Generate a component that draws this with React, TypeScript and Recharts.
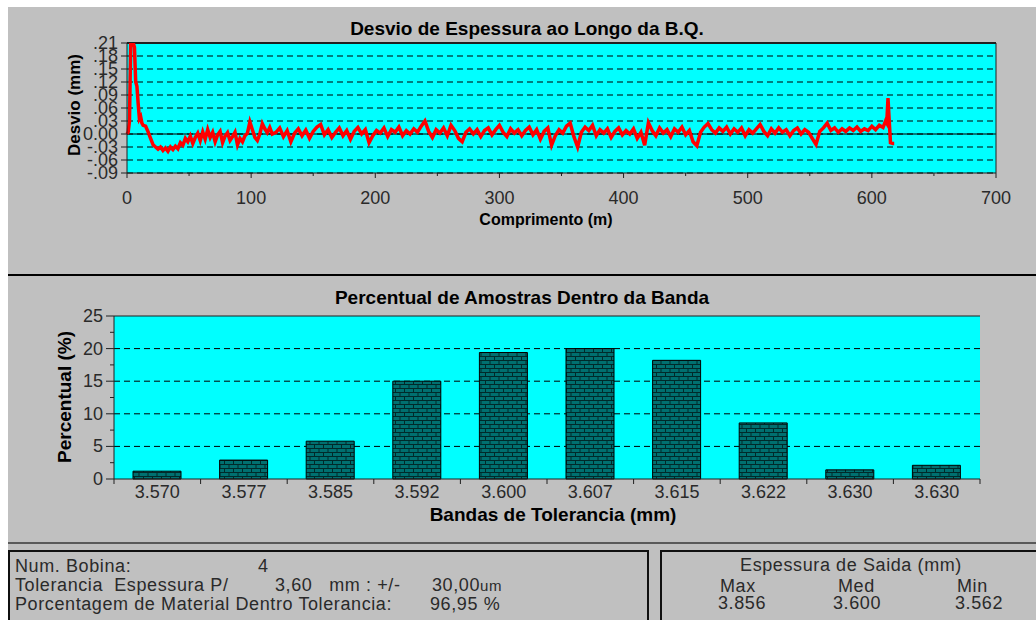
import React from "react"
import { LineChart, Line, BarChart, Bar, XAxis, YAxis, CartesianGrid, ReferenceLine } from "recharts"

// posicao ao longo da bobina (m) e desvio de espessura (mm)
const comprimento = [
  0, 1, 2, 3, 4, 5, 6, 7, 8, 9, 10, 11, 12, 13, 15, 17, 19, 21, 23, 25, 27, 29, 31, 33, 35, 37, 39,
  41, 43, 45, 47, 49, 51, 53, 55, 57, 59, 61, 63, 65, 67, 69, 71, 73, 75, 77, 79, 81, 83, 85, 87, 89,
  91, 93, 95, 97, 99, 101, 103, 105, 107, 109, 111, 113, 115, 117, 120, 123, 126, 129, 132, 135, 138,
  141, 144, 147, 150, 153, 156, 159, 162, 165, 168, 171, 174, 177, 180, 183, 186, 189, 192, 195, 198,
  201, 204, 207, 210, 213, 216, 219, 222, 225, 228, 231, 234, 237, 240, 243, 246, 249, 252, 255, 258,
  261, 264, 267, 270, 273, 276, 279, 282, 285, 288, 291, 294, 297, 300, 303, 306, 309, 312, 315, 318,
  321, 324, 327, 330, 333, 336, 339, 342, 345, 348, 351, 354, 357, 360, 363, 366, 369, 372, 375, 378,
  381, 384, 387, 390, 393, 396, 399, 402, 405, 408, 411, 414, 417, 420, 423, 426, 429, 432, 435, 438,
  441, 444, 447, 450, 453, 456, 459, 462, 465, 468, 471, 474, 477, 480, 483, 486, 489, 492, 495, 498,
  501, 504, 507, 510, 513, 516, 519, 522, 525, 528, 531, 534, 537, 540, 543, 546, 549, 552, 555, 558,
  561, 564, 567, 570, 573, 576, 579, 582, 585, 588, 591, 594, 597, 600, 603, 606, 609, 611, 612, 613,
  614, 615, 617, 618,
]
const desvio = [
  0.0, 0.005, 0.03, 0.21, 0.21, 0.21, 0.2, 0.12, 0.11, 0.07, 0.035, 0.04, 0.025, 0.02, 0.018, 0.005,
  -0.01, -0.025, -0.03, -0.035, -0.03, -0.038, -0.032, -0.04, -0.03, -0.036, -0.028, -0.034, -0.02,
  -0.026, -0.01, -0.018, -0.005, -0.022, -0.008, 0.002, -0.015, 0.005, -0.012, 0.01, -0.008, 0.004,
  -0.018, -0.002, 0.006, -0.02, -0.005, 0.003, -0.015, -0.006, 0.004, -0.025, -0.01, -0.018, -0.004,
  0.002, 0.028, 0.01, -0.008, -0.015, 0.0, 0.024, 0.012, 0.003, 0.015, 0.0, 0.004, 0.014, -0.006,
  0.008, -0.018, 0.002, 0.012, -0.004, 0.009, -0.01, 0.006, 0.016, 0.022, -0.002, 0.01, -0.008, 0.004,
  0.014, -0.004, 0.008, -0.012, 0.006, 0.015, 0.0, 0.01, -0.02, -0.004, 0.008, 0.002, 0.014, -0.006,
  0.01, 0.004, 0.016, -0.004, 0.008, 0.0, 0.012, 0.004, 0.018, 0.03, 0.006, -0.008, 0.01, 0.002,
  0.014, -0.004, 0.02, 0.008, -0.01, -0.018, 0.004, 0.012, 0.0, 0.01, -0.006, 0.008, 0.014, -0.002,
  0.01, 0.02, 0.004, -0.006, 0.012, 0.002, 0.01, -0.004, 0.008, 0.016, -0.002, 0.01, -0.012, 0.006,
  0.014, -0.026, -0.004, 0.01, 0.002, 0.018, 0.025, -0.006, -0.03, 0.004, 0.016, 0.008, 0.02, -0.004,
  0.01, 0.002, 0.012, -0.008, 0.006, 0.014, -0.002, 0.008, 0.0, 0.012, -0.01, 0.004, -0.026, 0.026,
  0.008, -0.004, 0.014, 0.002, 0.01, -0.006, 0.012, 0.004, 0.016, -0.002, 0.008, -0.018, -0.027,
  0.004, 0.016, 0.024, 0.01, 0.002, 0.014, 0.006, 0.016, 0.0, 0.012, 0.004, 0.014, -0.004, 0.01,
  0.002, 0.012, 0.022, 0.006, -0.004, 0.012, 0.002, 0.014, 0.004, 0.01, -0.004, 0.008, 0.014, 0.0,
  0.01, 0.004, -0.01, -0.024, 0.006, 0.014, 0.025, 0.008, 0.014, 0.004, 0.012, 0.006, 0.014, 0.008,
  0.016, 0.006, 0.012, 0.008, 0.018, 0.01, 0.02, 0.015, 0.03, 0.025, 0.083, 0.03, -0.02, -0.022,
  -0.022,
]
const ticksComprimento = [0, 50, 100, 150, 200, 250, 300, 350, 400, 450, 500, 550, 600, 650, 700]
const ticksDesvio = [-0.09, -0.06, -0.03, 0, 0.03, 0.06, 0.09, 0.12, 0.15, 0.18, 0.21]

const bandas = ["3.570", "3.577", "3.585", "3.592", "3.600", "3.607", "3.615", "3.622", "3.630", "3.630"]
const percentual = [1.2, 2.9, 5.8, 15.0, 19.4, 20.0, 18.2, 8.6, 1.4, 2.1]
const ticksPercentual = [0, 2.5, 5, 7.5, 10, 12.5, 15, 17.5, 20, 22.5, 25]
const gradePercentual = [5, 10, 15, 20]

const dadosDesvio = comprimento.map((m, i) => ({ m, d: desvio[i] }))
const dadosBanda = bandas.map((b, i) => ({ banda: b, pct: percentual[i] }))

const FONTE = "'Liberation Sans', Arial, sans-serif"
const EIXO = "#202020"
const TEXTO = "#2a2a2a"

const fmtDesvio = (v: number) => {
  if (Math.abs(v) < 1e-9) return "0.00"
  const s = Math.abs(v).toFixed(2).slice(1)
  return v < 0 ? "-" + s : s
}

const TickComprimento = (props: any) => {
  const { x, y, payload } = props
  const major = payload.value % 100 === 0
  return (
    <g>
      <line x1={x} y1={y} x2={x} y2={y + (major ? 5 : 3)} stroke={EIXO} />
      {major && (
        <text x={x} y={y + 31} textAnchor="middle" fontSize={18} fill={TEXTO} fontFamily={FONTE}>
          {payload.value}
        </text>
      )}
    </g>
  )
}

const TickDesvio = (props: any) => {
  const { x, y, payload } = props
  return (
    <g>
      <line x1={x - 6} y1={y} x2={x} y2={y} stroke={EIXO} />
      <text x={x - 9} y={y + 6} textAnchor="end" fontSize={18} fill={TEXTO} fontFamily={FONTE}>
        {fmtDesvio(payload.value)}
      </text>
    </g>
  )
}

const TickBanda = (props: any) => {
  const { x, y, payload, index } = props
  const half = payload && payload.offset > 0 ? payload.offset : 43.3
  return (
    <g>
      <line x1={x - half} y1={y} x2={x - half} y2={y + 5} stroke={EIXO} />
      {index === bandas.length - 1 && <line x1={x + half} y1={y} x2={x + half} y2={y + 5} stroke={EIXO} />}
      <text x={x} y={y + 19} textAnchor="middle" fontSize={18} fill={TEXTO} fontFamily={FONTE}>
        {payload.value}
      </text>
    </g>
  )
}

const TickPercentual = (props: any) => {
  const { x, y, payload } = props
  const major = payload.value % 5 === 0
  return (
    <g>
      <line x1={x - (major ? 8 : 4)} y1={y} x2={x} y2={y} stroke={EIXO} />
      {major && (
        <text x={x - 11} y={y + 6} textAnchor="end" fontSize={18} fill={TEXTO} fontFamily={FONTE}>
          {payload.value}
        </text>
      )}
    </g>
  )
}

const abs = (left: number, top: number, extra: React.CSSProperties = {}): React.CSSProperties => ({
  position: "absolute",
  left,
  top,
  whiteSpace: "nowrap",
  ...extra,
})

const titulo: React.CSSProperties = { fontWeight: "bold", fontSize: 19, color: "#000", transform: "translate(-50%, -50%)" }
const rotulo: React.CSSProperties = { fontWeight: "bold", fontSize: 19, color: "#000", transform: "translate(-50%, -50%) rotate(-90deg)" }
const info: React.CSSProperties = { fontSize: 18, color: TEXTO, letterSpacing: 0.6, lineHeight: "19px", transform: "translateY(-50%)" }

export default function App() {
  return (
    <div
      style={{
        position: "fixed",
        left: 8,
        top: 7,
        width: 1028,
        height: 613,
        background: "#c0c0c0",
        overflow: "hidden",
        fontFamily: FONTE,
      }}
    >
      {/* grafico de desvio */}
      <div style={abs(0, 0)}>
        <LineChart width={1028} height={268} data={dadosDesvio} margin={{ top: 36, right: 40, left: 59, bottom: 62 }}>
          <CartesianGrid vertical={false} stroke="#000" strokeDasharray="6 4" fill="#00ffff" fillOpacity={1} />
          <XAxis
            dataKey="m"
            type="number"
            domain={[0, 700]}
            ticks={ticksComprimento}
            interval={0}
            tick={<TickComprimento />}
            tickLine={false}
            tickSize={0}
            tickMargin={0}
            height={40}
            axisLine={{ stroke: EIXO }}
          />
          <YAxis
            type="number"
            domain={[-0.09, 0.21]}
            ticks={ticksDesvio}
            interval={0}
            allowDataOverflow
            tick={<TickDesvio />}
            tickLine={false}
            tickSize={0}
            tickMargin={0}
            width={60}
            axisLine={{ stroke: EIXO }}
          />
          <ReferenceLine y={0} stroke="#000" strokeWidth={1} />
          <ReferenceLine y={0.21} stroke={EIXO} strokeWidth={2} />
          <ReferenceLine x={700} stroke={EIXO} strokeWidth={1} />
          <Line type="linear" dataKey="d" stroke="#ff0000" strokeWidth={3.5} dot={false} isAnimationActive={false} />
        </LineChart>
      </div>
      <div style={abs(519, 22, titulo)}>Desvio de Espessura ao Longo da B.Q.</div>
      <div style={abs(538, 213, { ...titulo, fontSize: 16 })}>Comprimento (m)</div>
      <div style={abs(67, 98, { ...rotulo, fontSize: 17 })}>Desvio (mm)</div>
      <div style={abs(0, 267, { width: 1028, height: 2, background: "#000" })} />

      {/* grafico de bandas */}
      <div style={abs(0, 277)}>
        <BarChart width={1028} height={262} data={dadosBanda} margin={{ top: 32, right: 56, left: 46, bottom: 27 }}>
          <defs>
            <pattern id="tijolo" width="9" height="8" patternUnits="userSpaceOnUse">
              <rect width="9" height="8" fill="#007070" />
              <path d="M0 0.5H9M0 4.5H9M0.5 0V4.5M5 4.5V8" stroke="#002a2a" strokeWidth="1" fill="none" />
            </pattern>
          </defs>
          <CartesianGrid
            vertical={false}
            horizontalValues={gradePercentual}
            stroke="#000"
            strokeDasharray="6 4"
            fill="#00ffff"
            fillOpacity={1}
          />
          <XAxis
            dataKey="banda"
            interval={0}
            tick={<TickBanda />}
            tickLine={false}
            tickSize={0}
            tickMargin={0}
            height={40}
            axisLine={{ stroke: EIXO }}
          />
          <YAxis
            type="number"
            domain={[0, 25]}
            ticks={ticksPercentual}
            interval={0}
            tick={<TickPercentual />}
            tickLine={false}
            tickSize={0}
            tickMargin={0}
            width={60}
            axisLine={{ stroke: EIXO }}
          />
          <YAxis yAxisId="moldura" orientation="right" domain={[0, 25]} width={0} tick={false} tickLine={false} axisLine={{ stroke: EIXO }} />
          <ReferenceLine y={25} stroke={EIXO} strokeWidth={1} />
          <Bar dataKey="pct" fill="url(#tijolo)" stroke="#000" strokeWidth={1} barSize={48} isAnimationActive={false} />
        </BarChart>
      </div>
      <div style={abs(514, 291, titulo)}>Percentual de Amostras Dentro da Banda</div>
      <div style={abs(545, 508, titulo)}>Bandas de Tolerancia (mm)</div>
      <div style={abs(57, 390, rotulo)}>Percentual (%)</div>

      {/* paineis de informacao */}
      <div style={abs(0, 535, { width: 1028, height: 2, background: "#5a5a5a" })} />
      <div style={abs(0, 543, { width: 641, height: 90, border: "2px solid #101010", boxSizing: "border-box" })} />
      <div style={abs(652, 543, { width: 400, height: 90, border: "2px solid #101010", boxSizing: "border-box" })} />

      <div style={abs(7, 559, info)}>Num. Bobina:</div>
      <div style={abs(250, 559, info)}>4</div>
      <div style={abs(7, 578, info)}>Tolerancia&nbsp; Espessura P/</div>
      <div style={abs(267, 578, info)}>3,60&nbsp;&nbsp; mm : +/-</div>
      <div style={abs(424, 578, info)}>
        30,00<span style={{ fontSize: 15 }}>um</span>
      </div>
      <div style={abs(7, 597, info)}>Porcentagem de Material Dentro Tolerancia:</div>
      <div style={abs(422, 597, info)}>96,95 %</div>

      <div style={abs(843, 558, { ...info, transform: "translate(-50%, -50%)" })}>Espessura de Saida (mm)</div>
      <div style={abs(712, 579, info)}>Max</div>
      <div style={abs(830, 579, info)}>Med</div>
      <div style={abs(949, 579, info)}>Min</div>
      <div style={abs(710, 596, info)}>3.856</div>
      <div style={abs(825, 596, info)}>3.600</div>
      <div style={abs(947, 596, info)}>3.562</div>
    </div>
  )
}
